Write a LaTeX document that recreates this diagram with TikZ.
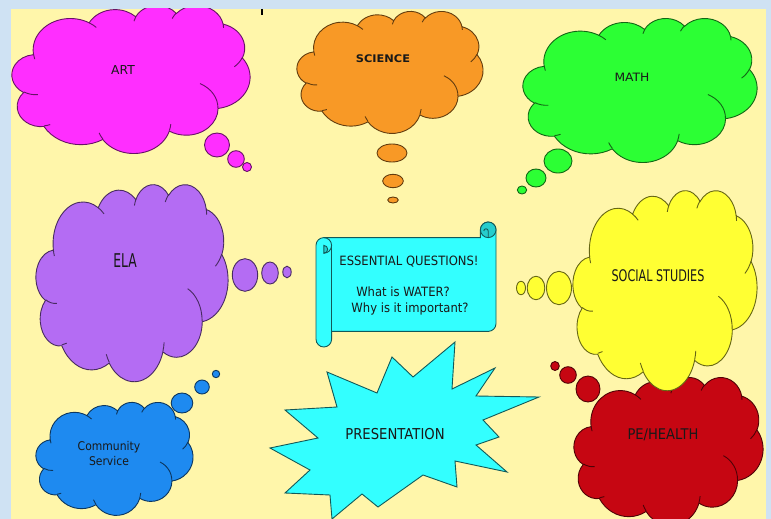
\documentclass[tikz,border=0pt]{standalone}
\usepackage{fontspec}
\usepackage{graphicx}
\newfontfamily\lblfont{DejaVu Sans}
\definecolor{bgblue}{RGB}{207,226,243}
\definecolor{paper}{RGB}{255,246,170}
\definecolor{artc}{RGB}{255,46,255}
\definecolor{scic}{RGB}{248,153,38}
\definecolor{mathc}{RGB}{44,255,52}
\definecolor{elac}{RGB}{180,108,243}
\definecolor{socc}{RGB}{255,255,51}
\definecolor{pec}{RGB}{198,6,18}
\definecolor{comc}{RGB}{30,138,240}
\definecolor{cyanc}{RGB}{51,255,255}
\definecolor{cyandk}{RGB}{38,205,205}
\definecolor{txt}{RGB}{25,25,25}
% OOXML-style elliptical arc (visual angles) -> TikZ arc
\newcommand\ooprep[5]{%
  \pgfmathsetmacro\oorx{#2/432}%
  \pgfmathsetmacro\oory{#3/432}%
  \pgfmathsetmacro\oota{atan2(\oorx*sin(#4),\oory*cos(#4))}%
  \pgfmathsetmacro\ootb{atan2(\oorx*sin(#4+#5),\oory*cos(#4+#5))}%
  \pgfmathsetmacro\oodt{\ootb-\oota}%
  \pgfmathsetmacro\oodt{(#5)>0 ? ((\oodt<0) ? \oodt+360 : \oodt) : ((\oodt>0) ? \oodt-360 : \oodt)}%
  \expandafter\xdef\csname oo#1\endcsname{arc[start angle=\oota, delta angle=\oodt, x radius=\oorx, y radius=\oory]}%
}
\ooprep{ma}{6753}{9190}{-190.48748}{123.78053}
\ooprep{mb}{5333}{7267}{-144.10238}{89.94523}
\ooprep{mc}{4365}{5945}{-145.80792}{99.72302}
\ooprep{md}{4857}{6595}{-130.98607}{117.24173}
\ooprep{me}{5333}{7273}{-78.70888}{109.02692}
\ooprep{mf}{6775}{9220}{-46.26725}{130.269}
\ooprep{mg}{5785}{7867}{0.62502}{114.03333}
\ooprep{mh}{6752}{9215}{22.4516}{115.17255}
\ooprep{mi}{7720}{10543}{66.24263}{75.71102}
\ooprep{mj}{4360}{5918}{-274.94208}{146.73557}
\ooprep{mk}{4345}{5945}{-246.8285}{152.51885}
\ooprep{ia}{4345}{5945}{86.742}{26.4295}
\ooprep{ib}{4360}{5918}{73.61047}{11.44747}
\ooprep{ic}{6752}{9215}{137.62415}{14.0811}
\ooprep{id}{6752}{9215}{6.45327}{15.99835}
\ooprep{ie}{5785}{7867}{-70.29235}{70.91737}
\ooprep{if}{5333}{7273}{30.31803}{27.7515}
\ooprep{ig}{4857}{6595}{-13.74433}{14.85853}
\ooprep{ih}{4857}{6595}{-149.18145}{18.19537}
\ooprep{ii}{4365}{5945}{-163.49427}{17.68635}
\ooprep{ij}{6753}{9190}{-66.70695}{12.31935}
\ooprep{ik}{6753}{9190}{157.65435}{11.85817}
\tikzset{
  cloudfill/.style={fill=#1, draw=#1!40!black, line width=0.9pt},
  cloudline/.style={draw=#1!40!black, line width=0.9pt},
  lbl/.style={text=txt, inner sep=0pt},
  scrollbody/.style={fill=cyanc, draw=cyanc!35!black, line width=0.9pt},
  scrolldark/.style={fill=cyandk, draw=cyanc!35!black, line width=0.9pt},
}
\newcommand\cloudshape[5]{%
  \pgfmathsetmacro\cxs{#3/100}\pgfmathsetmacro\cys{#4/100}%
  \begin{scope}[shift={(#1,#2)}, xscale=\cxs, yscale=\cys]
    \path[cloudfill=#5] (9.028,33.264) \ooma \oomb \oomc \oomd \oome \oomf \oomg \oomh \oomi \oomj \oomk -- cycle;
    \path[cloudline=#5] (10.863,60.595) \ooia (16.037,80.785) \ooib (38.144,90.486) \ooic
      (66.729,80.442) \ooid (79.002,53.134) \ooie (96.755,35.542) \ooif (88.713,12.560) \ooig
      (67.310,9.148) \ooih (51.252,10.926) \ooii (32.407,12.019) \ooij (9.553,36.549) \ooik;
  \end{scope}}
\newcommand\bub[5]{\path[cloudfill=#1] (#2,#3) ellipse[x radius=#4, y radius=#5];}
\begin{document}
\begin{tikzpicture}[x=1pt, y=1pt, yscale=-1]
\useasboundingbox (0,0) rectangle (771,519);
\fill[bgblue] (0,0) rectangle (771,519);
\fill[paper] (11,9) rectangle (766,519);
\begin{scope}
\clip (11,9) rectangle (766,519);
% ART
\cloudshape{12}{5}{238}{148}{artc}
\bub{artc}{217}{145}{12.5}{12}
\bub{artc}{236}{159}{8.3}{8.3}
\bub{artc}{247}{167}{4.5}{4.5}
% SCIENCE
\cloudshape{297}{11}{186}{122}{scic}
\bub{scic}{392}{153}{15}{9}
\bub{scic}{393}{181}{10.3}{6.7}
\bub{scic}{393}{200}{5.3}{3}
% MATH
\cloudshape{523}{18}{234}{144}{mathc}
\bub{mathc}{558}{161}{14}{12}
\bub{mathc}{536}{178}{10}{9}
\bub{mathc}{522}{190}{4.7}{4}
% ELA
\cloudshape{36}{184}{192}{197}{elac}
\bub{elac}{245}{275}{12.7}{16.3}
\bub{elac}{270}{273}{8.3}{11}
\bub{elac}{287}{272}{4.2}{5.8}
% PE/HEALTH
\cloudshape{574}{377}{189}{148}{pec}
\bub{pec}{588}{389}{12}{13}
\bub{pec}{568}{375}{8.3}{8.3}
\bub{pec}{555}{366}{4.3}{4.5}
% SOCIAL STUDIES
\cloudshape{573}{190}{184}{200}{socc}
\bub{socc}{559}{288}{12.5}{16.7}
\bub{socc}{536}{288}{8.8}{11.7}
\bub{socc}{521}{288}{4.5}{6.7}
% COMMUNITY SERVICE
\cloudshape{36}{402}{157}{113}{comc}
\bub{comc}{182}{403}{10.8}{10}
\bub{comc}{202}{387}{7.3}{7}
\bub{comc}{216}{374}{3.7}{3.7}
% scroll
\path[scrollbody] (316,245.4) arc[start angle=180,end angle=270,radius=7.8] -- (480.4,237.6) -- (480.4,229.8)
  arc[start angle=180,end angle=360,radius=7.8] -- (496,323.6) arc[start angle=0,end angle=90,radius=7.8]
  -- (331.6,331.4) -- (331.6,339.2) arc[start angle=0,end angle=180,radius=7.8] -- cycle;
\path[scrolldark] (488.2,229.8) circle[radius=7.8];
\draw[cyanc!35!black, line width=0.9pt] (488.2,237.6) -- (488.2,231) arc[start angle=0,end angle=-180,radius=2.2];
\draw[cyanc!35!black, line width=0.9pt] (323.8,237.6) arc[start angle=-90,end angle=90,radius=7.8];
\path[scrolldark] (323.8,253.2) arc[start angle=90,end angle=-90,radius=3.9] -- cycle;
\draw[cyanc!35!black, line width=0.9pt] (331.6,245.4) -- (331.6,331.4);
% star
\path[scrollbody] (455,342) -- (452,389) -- (495,368) -- (476,396) -- (539,397) -- (483,420) -- (499,437)
  -- (476,445) -- (507,472) -- (455,461) -- (457,487) -- (423,475) -- (378,507) -- (362,494) -- (332,519)
  -- (330,495) -- (285,493) -- (310,470) -- (270,448) -- (318,438) -- (285,410) -- (337,407) -- (327,372)
  -- (377,393) -- (392,357) -- (413,377) -- cycle;
\end{scope}
\draw[black, line width=1.2pt] (262,9) -- (262,15);
% labels
\node[lbl, font=\lblfont\fontsize{12.3}{14}\selectfont] (art) at (123,70) {ART};
\node[lbl, font=\lblfont\bfseries\fontsize{10.5}{12}\selectfont] (sci) at (383,59) {\scalebox{1.08}[1]{SCIENCE}};
\node[lbl, font=\lblfont\fontsize{11.5}{13}\selectfont] (math) at (632,77) {\scalebox{1.07}[1]{MATH}};
\node[lbl, font=\lblfont\fontsize{19}{21}\selectfont] (ela) at (125,261) {\scalebox{0.65}[1]{ELA}};
\node[lbl, font=\lblfont\fontsize{16}{18}\selectfont] (soc) at (658,276) {\scalebox{0.70}[1]{SOCIAL STUDIES}};
\node[lbl, font=\lblfont\fontsize{14.7}{16}\selectfont] (pe) at (663,435) {\scalebox{0.89}[1]{PE/HEALTH}};
\node[lbl, font=\lblfont\fontsize{15}{17}\selectfont] (pres) at (395,434) {\scalebox{0.88}[1]{PRESENTATION}};
\node[lbl, font=\lblfont\fontsize{12}{14}\selectfont] (com1) at (109,447) {\scalebox{0.9}[1]{Community}};
\node[lbl, font=\lblfont\fontsize{12}{14}\selectfont] (com2) at (109,461) {\scalebox{0.9}[1]{Service}};
\node[lbl, font=\lblfont\fontsize{12.8}{15}\selectfont] (eq1) at (409,262) {\scalebox{0.905}[1]{ESSENTIAL QUESTIONS!}};
\node[lbl, font=\lblfont\fontsize{12.8}{15}\selectfont] (eq2) at (403,292) {\scalebox{0.905}[1]{What is WATER?}};
\node[lbl, font=\lblfont\fontsize{12.8}{15}\selectfont] (eq3) at (410,309) {\scalebox{0.905}[1]{Why is it important?}};
\end{tikzpicture}
\end{document}
